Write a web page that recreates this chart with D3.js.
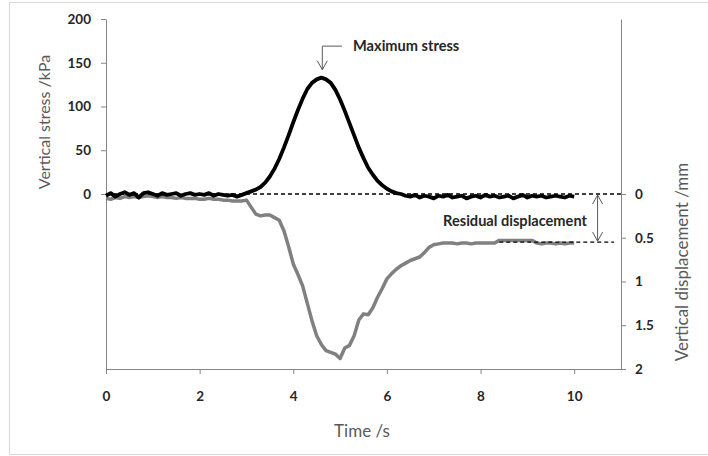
<!DOCTYPE html>
<html>
<head>
<meta charset="utf-8">
<script src="https://cdn.jsdelivr.net/npm/d3@7"></script>
<style>
  body { margin: 0; background: #fff; }
  svg { display: block; font-family: Lato, "Open Sans", sans-serif; }
</style>
</head>
<body>
<svg id="chart" width="708" height="456"></svg>
<script>
//
// Data
//

// time, s (both series sampled every 0.1 s)
var time = d3.range(0, 101).map(function(i) { return i / 10 })

// vertical stress, kPa
var stress = [
  -2, 1, -3, 0, 2, -1, 1, -4, 1, 2,
  0, -2, 1, -1, 0, 1, -2, 0, 1, -1,
  0, -1, 1, -2, 0, -1, -2, -1, -3, -1,
  1, 3, 5, 8, 13, 20, 29, 40, 53, 67,
  82, 96, 109, 120, 127, 131, 133, 131, 127, 119,
  108, 95, 81, 67, 53, 41, 30, 22, 15, 10,
  6, 3, 1, 0, -2, -3, -1, -4, -2, -3,
  -5, -2, -3, -1, -4, -3, -2, -5, -3, -2,
  -4, -1, -3, -2, -4, -3, -2, -5, -3, -1,
  -4, -2, -3, -2, -4, -3, -2, -3, -4, -2,
  -3
]

// vertical displacement, mm (downwards positive)
var displacement = [
  0.05, 0.06, 0.04, 0.05, 0.03, 0.04, 0.03, 0.04, 0.03, 0.02,
  0.03, 0.04, 0.03, 0.04, 0.04, 0.05, 0.04, 0.05, 0.05, 0.05,
  0.06, 0.06, 0.05, 0.06, 0.06, 0.07, 0.07, 0.08, 0.08, 0.08,
  0.07, 0.15, 0.23, 0.25, 0.24, 0.24, 0.27, 0.30, 0.42, 0.60,
  0.80, 0.92, 1.05, 1.25, 1.45, 1.62, 1.72, 1.79, 1.81, 1.83,
  1.88, 1.76, 1.73, 1.62, 1.44, 1.37, 1.38, 1.30, 1.18, 1.08,
  0.97, 0.91, 0.86, 0.82, 0.79, 0.76, 0.74, 0.72, 0.67, 0.61,
  0.58, 0.57, 0.56, 0.56, 0.56, 0.57, 0.56, 0.56, 0.57, 0.56,
  0.56, 0.56, 0.56, 0.56, 0.53, 0.53, 0.53, 0.53, 0.53, 0.53,
  0.53, 0.53, 0.56, 0.57, 0.56, 0.56, 0.57, 0.56, 0.57, 0.56,
  0.56
]

var xTicks = [0, 2, 4, 6, 8, 10]
var stressTicks = [0, 50, 100, 150, 200]
var dispTicks = [0, 0.5, 1, 1.5, 2]

// annotations
var peakTime = 4.62
var residual = 0.55
var residualStart = 8.4
var residualEnd = 10.85
var residualArrowTime = 10.5

//
// Layout
//

var plotLeft = 106, plotRight = 621, plotTop = 19, plotBottom = 369
var axisColor = '#868686'
var labelColor = '#262626'
var titleColor = '#595959'

var svg = d3.select('#chart')

// chart area border
svg.append('rect')
  .attr('x', 9.5).attr('y', 2.5)
  .attr('width', 720).attr('height', 452)
  .attr('fill', 'none')
  .attr('stroke', '#d9d9d9')

var x = d3.scaleLinear().domain([0, 11]).range([plotLeft, plotRight])
var yStress = d3.scaleLinear().domain([-200, 200]).range([plotBottom, plotTop])
var yDisp = d3.scaleLinear().domain([-2, 2]).range([plotTop, plotBottom])

//
// Axes
//

function styleAxis(g) {
  g.select('.domain').attr('stroke', axisColor)
  g.selectAll('.tick line').attr('stroke', axisColor)
  g.selectAll('.tick text')
    .attr('fill', labelColor)
    .attr('font-size', 13.5)
    .attr('font-weight', 'bold')
    .attr('font-family', 'Lato, sans-serif')
}

svg.append('g')
  .attr('transform', 'translate(' + plotLeft + ',0)')
  .call(d3.axisLeft(yStress).tickValues(stressTicks).tickSize(5).tickSizeOuter(0).tickPadding(10))
  .call(styleAxis)

svg.append('g')
  .attr('transform', 'translate(' + plotRight + ',0)')
  .call(d3.axisRight(yDisp).tickValues(dispTicks).tickSize(5).tickSizeOuter(0).tickPadding(9)
    .tickFormat(d3.format('')))
  .call(styleAxis)

svg.append('g')
  .attr('transform', 'translate(0,' + plotBottom + ')')
  .call(d3.axisBottom(x).tickValues(xTicks).tickSize(5).tickSizeOuter(0).tickPadding(17))
  .call(styleAxis)

// axis titles
svg.append('text')
  .attr('transform', 'translate(50,122) rotate(-90)')
  .attr('text-anchor', 'middle')
  .attr('fill', titleColor)
  .attr('font-size', 16)
  .text('Vertical stress /kPa')

svg.append('text')
  .attr('transform', 'translate(688,262) rotate(-90)')
  .attr('text-anchor', 'middle')
  .attr('fill', titleColor)
  .attr('font-size', 17)
  .text('Vertical displacement /mm')

svg.append('text')
  .attr('x', 362)
  .attr('y', 437)
  .attr('text-anchor', 'middle')
  .attr('fill', titleColor)
  .attr('font-size', 17)
  .text('Time /s')

//
// Series
//

var stressLine = d3.line()
  .x(function(d, i) { return x(time[i]) })
  .y(function(d) { return yStress(d) })

var dispLine = d3.line()
  .x(function(d, i) { return x(time[i]) })
  .y(function(d) { return yDisp(d) })

svg.append('path')
  .datum(displacement)
  .attr('d', dispLine)
  .attr('fill', 'none')
  .attr('stroke', '#808080')
  .attr('stroke-width', 3.5)
  .attr('stroke-linejoin', 'round')

svg.append('path')
  .datum(stress)
  .attr('d', stressLine)
  .attr('fill', 'none')
  .attr('stroke', '#000')
  .attr('stroke-width', 3.8)
  .attr('stroke-linejoin', 'round')

//
// Annotations
//

// zero line
svg.append('line')
  .attr('x1', x(0)).attr('x2', plotRight)
  .attr('y1', yDisp(0)).attr('y2', yDisp(0))
  .attr('stroke', '#000')
  .attr('stroke-width', 1.4)
  .attr('stroke-dasharray', '4,3')

// residual line
svg.append('line')
  .attr('x1', x(residualStart)).attr('x2', x(residualEnd))
  .attr('y1', yDisp(residual)).attr('y2', yDisp(residual))
  .attr('stroke', '#000')
  .attr('stroke-width', 1.4)
  .attr('stroke-dasharray', '4,3')

var arrowColor = '#595959'

// double arrow for residual displacement
var ax = x(residualArrowTime)
var ay0 = yDisp(0) + 1, ay1 = yDisp(residual) - 1
svg.append('line')
  .attr('x1', ax).attr('x2', ax).attr('y1', ay0).attr('y2', ay1)
  .attr('stroke', arrowColor).attr('stroke-width', 1)
svg.append('path')
  .attr('d', 'M' + (ax - 5) + ',' + (ay0 + 9) + 'L' + ax + ',' + ay0 + 'L' + (ax + 5) + ',' + (ay0 + 9)
    + 'M' + (ax - 5) + ',' + (ay1 - 9) + 'L' + ax + ',' + ay1 + 'L' + (ax + 5) + ',' + (ay1 - 9))
  .attr('fill', 'none').attr('stroke', arrowColor).attr('stroke-width', 1)

svg.append('text')
  .attr('x', 515).attr('y', 226)
  .attr('text-anchor', 'middle')
  .attr('fill', labelColor)
  .attr('font-size', 14.6)
  .attr('font-weight', 'bold')
  .text('Residual displacement')

// maximum stress arrow
var mx = x(peakTime)
var my0 = yStress(169), my1 = yStress(142)
svg.append('path')
  .attr('d', 'M' + x(5.04) + ',' + my0 + 'H' + mx + 'V' + my1
    + 'M' + (mx - 5) + ',' + (my1 - 9) + 'L' + mx + ',' + my1 + 'L' + (mx + 5) + ',' + (my1 - 9))
  .attr('fill', 'none').attr('stroke', arrowColor).attr('stroke-width', 1)

svg.append('text')
  .attr('x', 353).attr('y', 51)
  .attr('fill', labelColor)
  .attr('font-size', 14.6)
  .attr('font-weight', 'bold')
  .text('Maximum stress')
</script>
</body>
</html>
